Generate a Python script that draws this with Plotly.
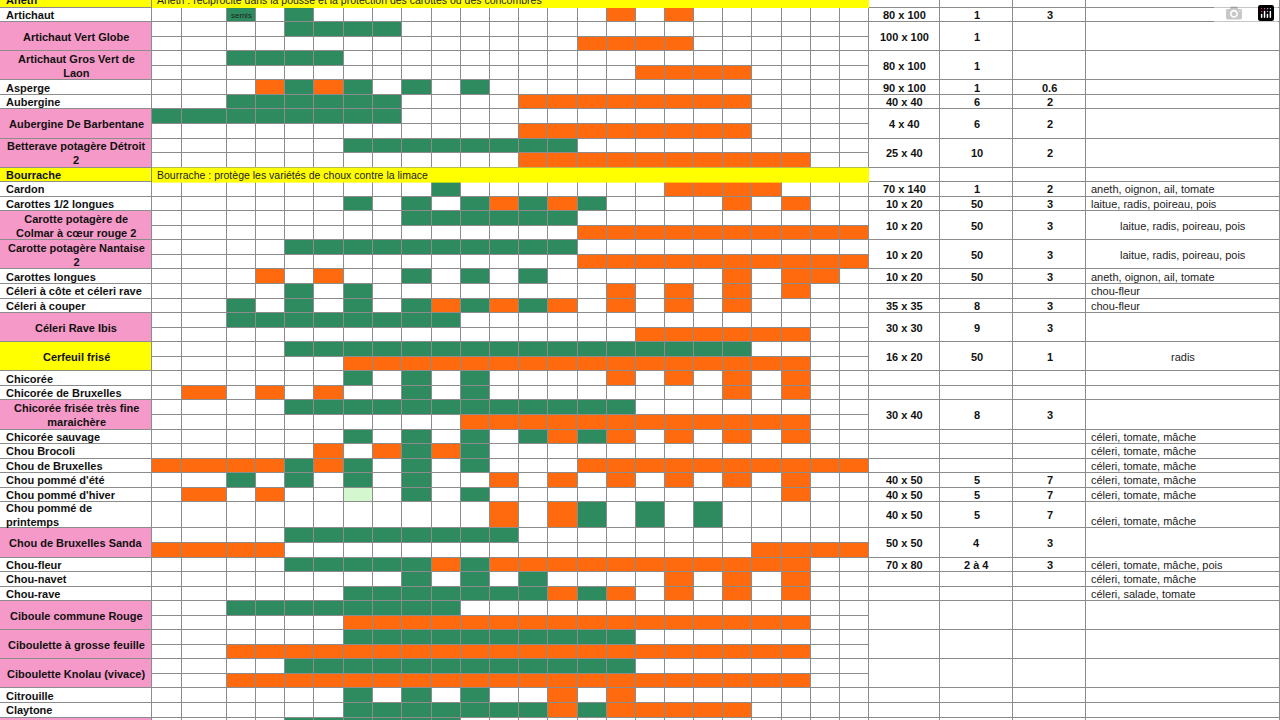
import plotly.graph_objects as go
import numpy as np

# ---------------- data ----------------
names = ["Aneth", "Artichaut", "Artichaut Vert Globe", "Artichaut Gros Vert de<br>Laon", "Asperge",
         "Aubergine", "Aubergine De Barbentane", "Betterave potagère Détroit<br>2", "Bourrache",
         "Cardon", "Carottes 1/2 longues", "Carotte potagère de<br>Colmar à cœur rouge 2",
         "Carotte potagère Nantaise<br>2", "Carottes longues", "Céleri à côte et céleri rave",
         "Céleri à couper", "Céleri Rave Ibis", "Cerfeuil frisé", "Chicorée", "Chicorée de Bruxelles",
         "Chicorée frisée très fine<br>maraichère", "Chicorée sauvage", "Chou Brocoli",
         "Chou de Bruxelles", "Chou pommé d'été", "Chou pommé d'hiver", "Chou pommé de<br>printemps",
         "Chou de Bruxelles Sanda", "Chou-fleur", "Chou-navet", "Chou-rave", "Ciboule commune Rouge",
         "Ciboulette à grosse feuille", "Ciboulette Knolau (vivace)", "Citrouille", "Claytone", ""]
kinds = ["y", "n", "p", "p", "n", "n", "p", "p", "y", "n", "n", "p", "p", "n", "n", "n", "p", "c",
         "n", "n", "p", "n", "n", "n", "n", "n", "n", "p", "n", "n", "n", "p", "p", "p", "n", "n", "p"]
notes = {0: "Aneth : réciprocité dans la pousse et la protection des carottes ou des concombres",
         8: "Bourrache : protège les variétés de choux contre la limace"}
# grid: '.' empty, 'G' semis (green), 'O' récolte (orange), 'L' light green
grids = [
    [],
    ["..G.G..........O.O......"],
    ["....GGGG................", "..............OOOO......"],
    ["..GGGG..................", "................OOOO...."],
    ["...OGOG.G.G............."],
    ["..GGGGGG....OOOOOOOO...."],
    ["GGGGGGGG................", "............OOOOOOOO...."],
    ["......GGGGGGGG..........", "............OOOOOOOOOO.."],
    [],
    [".........G.......OOOO..."],
    ["......G.G.GOGOG....O.O.."],
    ["........GGGGGG..........", "..............OOOOOOOOOO"],
    ["....GGGGGGGGGG..........", "..............OOOOOOOOOO"],
    ["...O.O..G.G.G......O.OO."],
    ["....G.G........O.O.O.O.."],
    ["..G.G.G.GOGOGO.O.O.O...."],
    ["..GGGGGGGG..............", "................OOOOOO.."],
    ["....GGGGGGGGGGGGGGGG....", "......OOOOOOOOOOOOOOOO.."],
    ["......G.G.G....O.O.O.O.."],
    [".O.O.O..G.G........O.O.."],
    ["....GGGGGGGGGGGG........", "..........OOOOOOOOOOOO.."],
    ["......G.G.G.GOGO.O.O.O.."],
    [".....O.OGOG............."],
    ["OOOOGOG.G.G...OOOOOOOOOO"],
    ["..G.G.G.G..O.O.O.O.O.O.."],
    [".O.O..L.G.G..........O.."],
    ["...........O.OG.G.G....."],
    ["....GGGGGGGG............", "OOOO................OOOO"],
    ["....GGGGGOGOOOOOOOOOOO.."],
    ["........G.G.G....O.O.O.."],
    ["......GGGGGGGOGO.O.O.O.."],
    ["..GGGGGGGG..............", "......OOOOOOOOOOOOOOOO.."],
    ["......GGGGGGGGGG........", "..OOOOOOOOOOOOOOOOOOOO.."],
    ["....GGGGGGGGGGGG........", "..OOOOOOOOOOOOOOOOOOOO.."],
    ["......G.G.G..O.O........"],
    ["......GGGGGGGOGOOOOO...."],
    ["....GGGGGG.............."],
]
spacing = ["", "80 x 100", "100 x 100", "80 x 100", "90 x 100", "40 x 40", "4 x 40", "25 x 40", "",
           "70 x 140", "10 x 20", "10 x 20", "10 x 20", "10 x 20", "", "35 x 35", "30 x 30", "16 x 20",
           "", "", "30 x 40", "", "", "", "40 x 50", "40 x 50", "40 x 50", "50 x 50", "70 x 80", "", "",
           "", "", "", "", "", ""]
plants = ["", "1", "1", "1", "1", "6", "6", "10", "", "1", "50", "50", "50", "50", "", "8", "9", "50",
          "", "", "8", "", "", "", "5", "5", "5", "4", "2 à 4", "", "", "", "", "", "", "", ""]
qty = ["", "3", "", "", "0.6", "2", "2", "2", "", "2", "3", "3", "3", "3", "", "3", "3", "1",
       "", "", "3", "", "", "", "7", "7", "7", "3", "3", "", "", "", "", "", "", "", ""]
companions = ["", "", "", "", "", "", "", "", "", "aneth, oignon, ail, tomate", "laitue, radis, poireau, pois",
              "laitue, radis, poireau, pois", "laitue, radis, poireau, pois", "aneth, oignon, ail, tomate",
              "chou-fleur", "chou-fleur", "", "radis", "", "", "", "céleri, tomate, mâche",
              "céleri, tomate, mâche", "céleri, tomate, mâche", "céleri, tomate, mâche",
              "céleri, tomate, mâche", "céleri, tomate, mâche", "", "céleri, tomate, mâche, pois",
              "céleri, tomate, mâche", "céleri, salade, tomate", "", "", "", "", "", ""]
comp_center = {11, 12, 17}

# ---------------- layout geometry ----------------
H = 14.55
TOP = -7.0
tall = {26: 1.8}
col_edges = [152, 182, 227, 256, 285, 314, 344, 373, 402, 432, 461, 490, 519, 548, 578, 607, 636,
             665, 694, 723, 752, 782, 811, 840, 869]
right_edges = [869, 940, 1013, 1086, 1280]

GREEN, ORANGE, LIGHT, PINK, YELLOW = "#2e8b5f", "#ff6a0f", "#d4f7d0", "#f59ac8", "#ffff00"
code = {".": 0, "G": 1, "O": 2, "L": 3}

entry_top, entry_bot = [], []
row_edges = [TOP]
z_grid = []
y = TOP
for i, g in enumerate(grids):
    n = max(1, len(g))
    entry_top.append(y)
    for r in range(n):
        h = H * tall.get(i, 1)
        y += h
        row_edges.append(y)
        z_grid.append([code[c] for c in g[r]] if g else [np.nan] * 24)
    entry_bot.append(y)
entry_edges = [entry_top[0]] + entry_bot

fig = go.Figure()
cs = [[0, "#ffffff"], [0.125, "#ffffff"], [0.125, GREEN], [0.5, GREEN], [0.5, ORANGE],
      [0.875, ORANGE], [0.875, LIGHT], [1, LIGHT]]
fig.add_trace(go.Heatmap(x=col_edges, y=row_edges, z=z_grid, colorscale=cs, zmin=0, zmax=3,
                         showscale=False, xgap=1, ygap=1, hoverinfo="skip"))
lab_code = {"n": 0, "p": 1, "y": 2, "c": 2}
fig.add_trace(go.Heatmap(x=[0, 151], y=entry_edges, z=[[lab_code[k]] for k in kinds],
                         colorscale=[[0, "#ffffff"], [0.33, "#ffffff"], [0.33, PINK], [0.66, PINK],
                                     [0.66, YELLOW], [1, YELLOW]], zmin=0, zmax=2,
                         showscale=False, ygap=1, hoverinfo="skip"))
for i in notes:
    fig.add_trace(go.Heatmap(x=[col_edges[0], col_edges[-1]], y=[entry_top[i], entry_bot[i]],
                             z=[[1]], colorscale=[[0, YELLOW], [1, YELLOW]], showscale=False,
                             hoverinfo="skip"))
fig.add_trace(go.Heatmap(x=right_edges, y=entry_edges,
                         z=[[0] * 4 for _ in names], colorscale=[[0, "#ffffff"], [1, "#ffffff"]],
                         showscale=False, xgap=1, ygap=1, hoverinfo="skip"))

F = "Liberation Sans, Arial, sans-serif"
ann = []
for i, nm in enumerate(names):
    yc = (entry_top[i] + entry_bot[i]) / 2
    if kinds[i] in ("p", "c"):
        ann.append(dict(x=76, y=yc, text=f"<b>{nm}</b>", xanchor="center", align="center",
                        font=dict(size=11, color="#111", family=F)))
    elif nm:
        ann.append(dict(x=4, y=yc, text=f"<b>{nm}</b>", xanchor="left", align="left",
                        font=dict(size=11, color="#111", family=F)))
    for j, val in enumerate([spacing[i], plants[i], qty[i]]):
        if val:
            ann.append(dict(x=(right_edges[j] + right_edges[j + 1]) / 2, y=yc, text=f"<b>{val}</b>",
                            xanchor="center", font=dict(size=11, color="#111", family=F)))
    if companions[i]:
        if i in comp_center:
            ann.append(dict(x=1183, y=yc, text=companions[i], xanchor="center",
                            font=dict(size=11, color="#222", family=F)))
        else:
            yy = entry_bot[i] - 7 if i == 26 else yc
            ann.append(dict(x=1089, y=yy, text=companions[i], xanchor="left",
                            font=dict(size=11, color="#222", family=F)))
for i, t in notes.items():
    ann.append(dict(x=155, y=(entry_top[i] + entry_bot[i]) / 2, text=t, xanchor="left",
                    font=dict(size=10.5, color="#222", family=F)))
ann.append(dict(x=241, y=(entry_top[1] + entry_bot[1]) / 2 + 1, text="semis", xanchor="center",
                font=dict(size=8, color="#222", family=F)))
for a in ann:
    a.update(xref="x", yref="y", showarrow=False, yanchor="middle")

fig.update_layout(width=1280, height=720, margin=dict(l=0, r=0, t=0, b=0),
                  plot_bgcolor="#8c8c8c", paper_bgcolor="#ffffff", annotations=ann,
                  xaxis=dict(range=[0, 1280], visible=False, fixedrange=True),
                  yaxis=dict(range=[720, 0], visible=False, fixedrange=True))
fig.write_html("out.html")

# remove the default 8px page margin so the figure fills the window exactly
with open("out.html", encoding="utf-8") as f:
    html = f.read()
html = html.replace("<body>", '<body style="margin:0;overflow:hidden">', 1)
with open("out.html", "w", encoding="utf-8") as f:
    f.write(html)
